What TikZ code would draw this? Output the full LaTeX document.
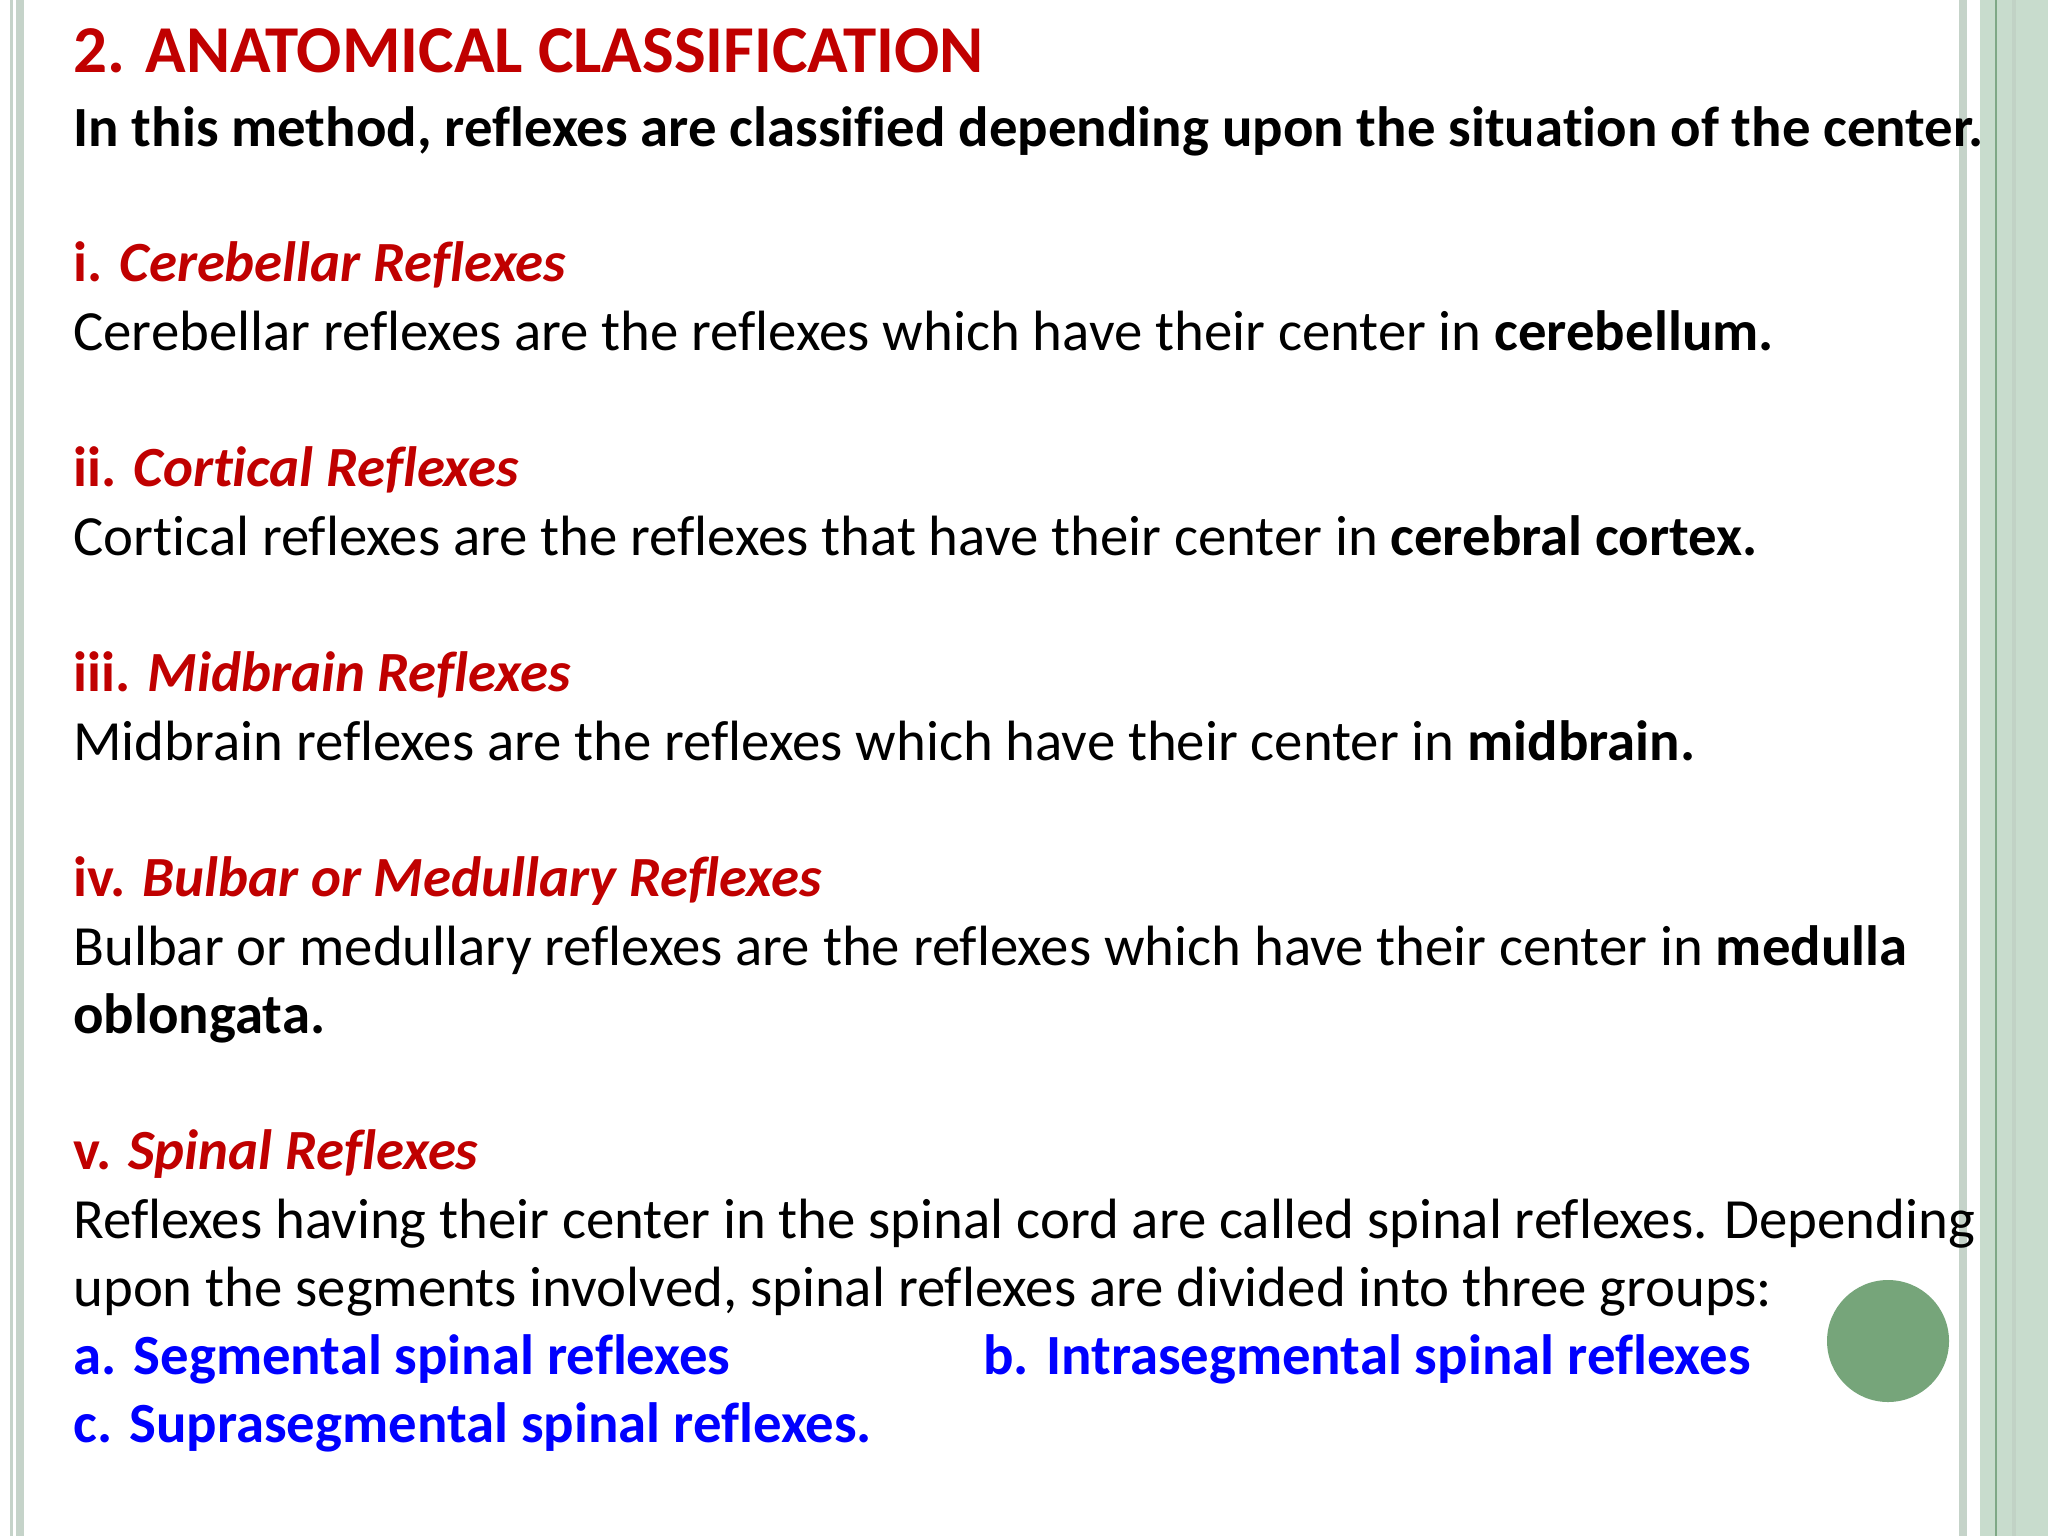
\documentclass[tikz,border=0pt]{standalone}
\usepackage{fontspec}
\setmainfont{Carlito}[Ligatures={NoCommon,NoRare}]
\definecolor{tred}{HTML}{C00000}
\definecolor{tblue}{HTML}{0000FF}
\definecolor{stripe}{HTML}{C5D3C9}
\definecolor{band}{HTML}{C8DCCD}
\definecolor{dline}{HTML}{7FA886}
\definecolor{circ}{HTML}{76A57A}
\begin{document}
\begin{tikzpicture}[x=0.5pt,y=-0.5pt,
  txt/.style={anchor=base west,inner sep=0pt,font=\fontsize{28.4}{32}\selectfont},
  bt/.style={txt,font=\fontsize{28.4}{32}\selectfont\bfseries},
  ttl/.style={anchor=base west,inner sep=0pt,font=\fontsize{33.5}{38}\selectfont\bfseries,text=tred}]
\useasboundingbox (0,0) rectangle (2048,1536);
\fill[white] (0,0) rectangle (2048,1536);
\fill[stripe] (10,0) rectangle (13,1536);
\fill[stripe] (16,0) rectangle (24,1536);
\fill[stripe] (1959,0) rectangle (1967,1536);
\fill[band] (1980,0) rectangle (2048,1536);
\fill[stripe!90!black,opacity=0.3] (2012,0) rectangle (2016,1536);
\draw[dline,line width=1pt] (1996,0) -- (1996,1536);
\node[circle,fill=circ,minimum size=61pt,inner sep=0pt] (c) at (1888,1341) {};
\node[ttl] (t0) at (73,73) {2. ANATOMICAL CLASSIFICATION};
\node[bt] (t1) at (73,146) {In this method, reflexes are classified depending upon the situation of the center.};
\node[bt,text=tred] (h1) at (73,281) {i. \textit{Cerebellar Reflexes}};
\node[txt] (b1) at (73,350) {Cerebellar reflexes are the reflexes which have their center in \textbf{cerebellum.}};
\node[bt,text=tred] (h2) at (73,486) {ii. \textit{Cortical Reflexes}};
\node[txt] (b2) at (73,555) {Cortical reflexes are the reflexes that have their center in \textbf{cerebral cortex.}};
\node[bt,text=tred] (h3) at (73,691) {iii. \textit{Midbrain Reflexes}};
\node[txt] (b3) at (73,760) {Midbrain reflexes are the reflexes which have their center in \textbf{midbrain.}};
\node[bt,text=tred] (h4) at (73,896) {iv. \textit{Bulbar or Medullary Reflexes}};
\node[txt] (b4) at (73,965) {Bulbar or medullary reflexes are the reflexes which have their center in \textbf{medulla}};
\node[bt] (b4b) at (73,1033) {oblongata.};
\node[bt,text=tred] (h5) at (73,1169) {v. \textit{Spinal Reflexes}};
\node[txt] (b5) at (73,1238) {Reflexes having their center in the spinal cord are called spinal reflexes. Depending};
\node[txt] (b5b) at (73,1306) {upon the segments involved, spinal reflexes are divided into three groups:};
\node[bt,text=tblue] (a) at (73,1374) {a. Segmental spinal reflexes};
\node[bt,text=tblue] (b) at (983,1374) {b. Intrasegmental spinal reflexes};
\node[bt,text=tblue] (cc) at (73,1442) {c. Suprasegmental spinal reflexes.};
\end{tikzpicture}
\end{document}
